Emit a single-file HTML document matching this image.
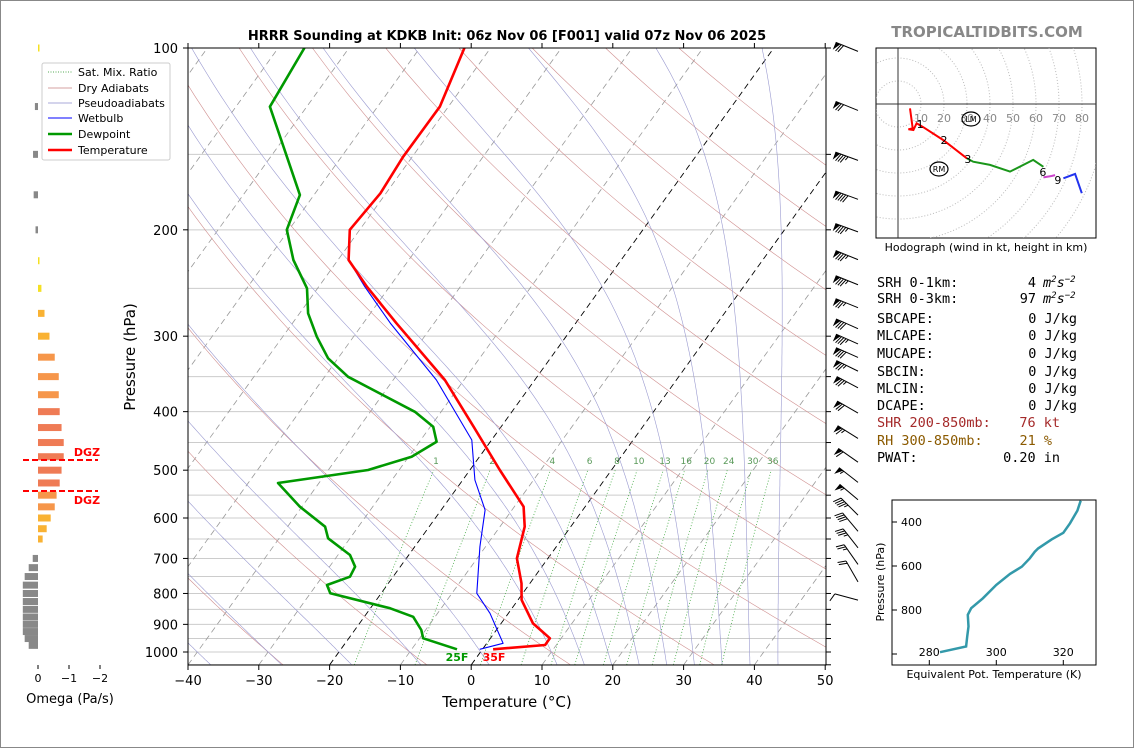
<!DOCTYPE html>
<html><head><meta charset="utf-8"><style>
html,body{margin:0;padding:0;background:#fff}
svg{display:block;font-family:"DejaVu Sans","Liberation Sans",sans-serif}
.mono{font-family:"DejaVu Sans Mono","Liberation Mono",monospace}
</style></head><body>
<svg id="s" width="1134" height="748" viewBox="0 0 1134 748">
<rect x="0.5" y="0.5" width="1133" height="747" fill="#fff" stroke="#888"/>
<defs><clipPath id="cp"><rect x="188" y="48" width="638" height="617"/></clipPath>
<clipPath id="hc"><rect x="876" y="48" width="220" height="190"/></clipPath></defs>
<g id="bg" clip-path="url(#cp)"></g>
<g id="series" clip-path="url(#cp)"></g>
<rect x="188" y="48" width="638" height="617" fill="none" stroke="#000"/>
<g id="axes"></g>
<text x="507" y="40" text-anchor="middle" font-size="13" font-weight="bold">HRRR Sounding at KDKB Init: 06z Nov 06 [F001] valid 07z Nov 06 2025</text>
<text x="987" y="37" text-anchor="middle" font-size="15" font-weight="bold" fill="#888">TROPICALTIDBITS.COM</text>
<text x="507" y="707" text-anchor="middle" font-size="15">Temperature (°C)</text>
<text transform="translate(135,357) rotate(-90)" text-anchor="middle" font-size="15">Pressure (hPa)</text>
<text x="70" y="703" text-anchor="middle" font-size="13">Omega (Pa/s)</text>
<text x="457" y="661" text-anchor="middle" font-size="11" font-weight="bold" fill="#009900">25F</text>
<text x="494" y="661" text-anchor="middle" font-size="11" font-weight="bold" fill="#f00">35F</text>
<g id="omega"></g>
<g font-size="11">
<rect x="42" y="63" width="128" height="97" fill="#fff" stroke="#ccc" rx="2"/>
<line x1="48" y1="72" x2="72" y2="72" stroke="#5a5" stroke-dasharray="1,1.5"/><text x="78" y="76">Sat. Mix. Ratio</text>
<line x1="48" y1="88" x2="72" y2="88" stroke="#d4a0a0"/><text x="78" y="92">Dry Adiabats</text>
<line x1="48" y1="103" x2="72" y2="103" stroke="#a8a8d8"/><text x="78" y="107">Pseudoadiabats</text>
<line x1="48" y1="118" x2="72" y2="118" stroke="#00f"/><text x="78" y="122">Wetbulb</text>
<line x1="48" y1="134" x2="72" y2="134" stroke="#009900" stroke-width="2.5"/><text x="78" y="138">Dewpoint</text>
<line x1="48" y1="150" x2="72" y2="150" stroke="#f00" stroke-width="2.5"/><text x="78" y="154">Temperature</text>
</g>
<g id="barbs"></g>
<g id="hodo"></g>
<text x="986" y="251" text-anchor="middle" font-size="11">Hodograph (wind in kt, height in km)</text>
<g class="mono" font-size="13.5">
<text x="877" y="287">SRH 0-1km:</text><text x="1036" y="287" text-anchor="end">4</text><text x="1043" y="287" font-style="italic">m<tspan font-size="9" dy="-5">2</tspan><tspan dy="5">s</tspan><tspan font-size="9" dy="-5">−2</tspan></text>
<text x="877" y="303">SRH 0-3km:</text><text x="1036" y="303" text-anchor="end">97</text><text x="1043" y="303" font-style="italic">m<tspan font-size="9" dy="-5">2</tspan><tspan dy="5">s</tspan><tspan font-size="9" dy="-5">−2</tspan></text>
<text x="877" y="323">SBCAPE:</text><text x="1077" y="323" text-anchor="end">0 J/kg</text>
<text x="877" y="340">MLCAPE:</text><text x="1077" y="340" text-anchor="end">0 J/kg</text>
<text x="877" y="358">MUCAPE:</text><text x="1077" y="358" text-anchor="end">0 J/kg</text>
<text x="877" y="376">SBCIN:</text><text x="1077" y="376" text-anchor="end">0 J/kg</text>
<text x="877" y="393">MLCIN:</text><text x="1077" y="393" text-anchor="end">0 J/kg</text>
<text x="877" y="410">DCAPE:</text><text x="1077" y="410" text-anchor="end">0 J/kg</text>
<text x="877" y="427" fill="#a52a2a">SHR 200-850mb:</text><text x="1060" y="427" fill="#a52a2a" text-anchor="end">76 kt</text>
<text x="877" y="445" fill="#8b5a00">RH 300-850mb:</text><text x="1052" y="445" fill="#8b5a00" text-anchor="end">21 %</text>
<text x="877" y="462">PWAT:</text><text x="1060" y="462" text-anchor="end">0.20 in</text>
</g>
<g id="thetae"></g>
</svg>
<script>
// ---- sounding data (pressure hPa, temperature °C) ----
const tempP=[100,125.1,151.4,174,200,224.4,248.4,285.6,354.5,423.6,499.6,574.7,620.3,699.7,769.6,820,896.6,949.1,973.5,989.7];
const tempT=[-63.7,-61.2,-61.3,-60.8,-61.4,-58.5,-53.2,-45.3,-32.7,-23.9,-15.8,-8.7,-6.5,-4.4,-1.2,0.5,4.5,8.4,8.4,1.5];
const dewP=[100,125.1,175.1,200,224.4,249.9,274.9,300.6,326.4,350.2,400.3,423.6,448.5,475,499.6,525.1,574.7,620.3,648.3,691,722.4,750.4,774.6,799.4,846.7,874.3,919.6,949.1,989.7];
const dewT=[-86.3,-85.2,-72,-70.3,-66.3,-61.5,-58.8,-55.2,-51.4,-46.7,-33.7,-29.6,-27.6,-29.6,-34.4,-45.8,-40.3,-34.7,-33.1,-28.3,-26.4,-26.1,-28.5,-27.2,-17.2,-13.1,-10.6,-9.5,-3.6];
const wbP=[100,125.1,151.4,174,200,224.4,248.4,285.4,354.5,445.7,519,582,669.4,799.4,862.9,967.3,989.7];
const wbT=[-63.7,-61.2,-61.3,-60.8,-61.4,-58.5,-53.5,-46.2,-33.9,-22.8,-18.3,-13.8,-10.8,-6.5,-2.6,2.3,-0.4];
// omega
const omegaP=[100,125,150,175,200,225,250,275,300,325,350,375,400,425,450,475,500,525,550,575,600,625,650,675,700,725,750,775,800,825,850,875,900,925,950,975];
const omegaV=[-0.03,0.1,0.16,0.14,0.08,-0.03,-0.11,-0.21,-0.37,-0.54,-0.67,-0.67,-0.70,-0.76,-0.83,-0.83,-0.76,-0.70,-0.60,-0.54,-0.41,-0.28,-0.15,0,0.17,0.30,0.43,0.49,0.49,0.49,0.49,0.49,0.49,0.49,0.43,0.30];
// wind barbs
const barbP=[99,124,150,174,197,219,241,263,285,302,318,335,357,393,433,474,512,547,580,617,657,700,748,802];
const barbSpd=[70,70,85,90,85,85,85,75,80,85,80,75,75,70,65,60,55,55,45,40,35,25,20,10];
const barbAng=[158,158,160,160,160,158,158,158,156,156,156,154,152,150,148,145,142,140,135,130,128,125,120,165];
// hodograph (kt)
const hodoU=[[5.2,6.4,4.5,6.7,8.1,11,19.7,29.9],[29.9,32.7,40,48.7,58.8,63.2],[63.2,66.8,68.3],[71.9,77,79.9]];
const hodoV=[[-1.9,-10.6,-11,-11.3,-8.4,-10.1,-15.7,-23.6],[-23.6,-25.1,-26.5,-29.4,-24.3,-27.3],[-31.9,-31.3,-30.9],[-32.3,-30.4,-38.8]];
const hodoColors=['#f00','#1a961a','#cc44cc','#2233ee'];
const hodoLabels=['1','2','3','6','9'];
const hodoLabU=[9.6,20,30.4,63,69.5];
const hodoLabV=[-8.8,-15.7,-24,-29.6,-33];
// theta-e
const thP=[303,348,406,449,479,520,535,565,603,636,686,747,792,822,875,921,966,992];
const thV=[325.2,324.2,322,320,316.5,312.5,311.5,310,307.6,304.1,300,296,292.5,291.5,291.7,291.3,291,283.2];
const mixR=[1,2,4,6,8,10,13,16,20,24,30,36];
const tempTicks=[-40,-30,-20,-10,0,10,20,30,40,50];
const presTicks=[100,200,300,400,500,600,700,800,900,1000];

const NS='http://www.w3.org/2000/svg';
function mk(tag,attrs,parent){const e=document.createElementNS(NS,tag);for(const k in attrs)e.setAttribute(k,attrs[k]);parent.appendChild(e);return e;}
const yP=p=>48+604*Math.log10(p/100);
const xT=(T,p)=>188+(T+40)*7.08+(665-yP(p))*0.72;
const pathOf=pts=>pts.map((q,i)=>(i?'L':'M')+q[0].toFixed(1)+','+q[1].toFixed(1)).join('');
const bg=document.getElementById('bg'),ser=document.getElementById('series'),ax=document.getElementById('axes');
for(let p=100;p<=1050;p+=50){const l=mk('line',{x1:188,x2:826,y1:yP(p),y2:yP(p),stroke:'#ccc','stroke-width':1},bg);

}
for(let T=-130;T<=50;T+=10){const pts=[[xT(T,1050),yP(1050)],[xT(T,100),yP(100)]];
const l=mk('path',{d:pathOf(pts),stroke:(T==0||T==-20)?'#000':'#999','stroke-dasharray':'6,4',fill:'none','stroke-width':(T==0||T==-20)?0.9:0.8},bg);

}
for(let th=-30;th<=200;th+=20){const pts=[];for(let p=100;p<=1050;p+=10){pts.push([xT((th+273.15)*Math.pow(p/1000,0.286)-273.15,p),yP(p)]);}
const l=mk('path',{d:pathOf(pts),stroke:'#d09090',fill:'none','stroke-width':0.6},bg);

}
function es(T){return 6.112*Math.exp(17.67*T/(T+243.5));}
const moistT0=[-50,-40,-30,-20,-10,0,10,14,18,22,26,30,34,38,42];
moistT0.forEach(t0=>{let T=t0+273.15;const pts=[[xT(t0,1000),yP(1000)]];
let p=1000;while(p>100){const rs=0.622*es(T-273.15)/(p-es(T-273.15));const dTdp=(287*T+2.5e6*rs)/(1004+2.5e6*2.5e6*rs*0.622/(287*T*T))/p;T-=dTdp*5;p-=5;pts.push([xT(T-273.15,p),yP(p)]);}
let T2=t0+273.15;const pd=[];p=1000;while(p<1050){const rs=0.622*es(T2-273.15)/(p-es(T2-273.15));const dTdp=(287*T2+2.5e6*rs)/(1004+2.5e6*2.5e6*rs*0.622/(287*T2*T2))/p;T2+=dTdp*5;p+=5;pd.push([xT(T2-273.15,p),yP(p)]);}
const l=mk('path',{d:pathOf(pd.reverse().concat(pts)),stroke:'#9a9ad0',fill:'none','stroke-width':0.6},bg);

});
function tdw(w,p){const e=w*p/(622+w);const g=Math.log(e/6.112);return 243.5*g/(17.67-g);}
mixR.forEach(w=>{const pts=[];for(let p=1050;p>=500;p-=10)pts.push([xT(tdw(w,p),p),yP(p)]);
const l=mk('path',{d:pathOf(pts),stroke:'#4a4','stroke-dasharray':'1,2',fill:'none','stroke-width':0.8},bg);


const t=mk('text',{x:xT(tdw(w,490),490),y:yP(490)-1,'text-anchor':'middle','font-size':9,fill:'#5a9a5a'},bg);t.textContent=w;

});
function line(P,T,col,w,name){const pts=P.map((p,i)=>[xT(T[i],p),yP(p)]);const l=mk('path',{d:pathOf(pts),stroke:col,'stroke-width':w,fill:'none','stroke-linejoin':'round'},ser);

}
line(wbP,wbT,'#00f',1.1,'wetbulb-line');
line(dewP,dewT,'#009900',2.6,'dewpoint-line');
line(tempP,tempT,'#f00',2.6,'temperature-line');
tempTicks.forEach(T=>{const x=188+(T+40)*7.08;mk('line',{x1:x,x2:x,y1:665,y2:670,stroke:'#000'},ax);mk('line',{x1:x,x2:x,y1:48,y2:43,stroke:'#000'},ax);
const t=mk('text',{x:x,y:685,'text-anchor':'middle','font-size':13},ax);t.textContent=T<0?'−'+(-T):T;

});
presTicks.forEach(p=>{const y=yP(p);mk('line',{x1:183,x2:188,y1:y,y2:y,stroke:'#000'},ax);
const t=mk('text',{x:178,y:y+5,'text-anchor':'end','font-size':13},ax);t.textContent=p;

});
for(let p=100;p<=1050;p+=50){mk('line',{x1:826,x2:831,y1:yP(p),y2:yP(p),stroke:'#000'},ax);}
const om=document.getElementById('omega');const ox=v=>38-v*31;
omegaP.forEach((p,i)=>{const v=omegaV[i];if(Math.abs(v)<0.005)return;const a=Math.abs(v);
const c=v>0?'#888':(a<0.15?'#f5e023':(a<0.45?'#f9b233':(a<0.7?'#f6964a':'#ef7b55')));
const x1=Math.min(ox(0),ox(v)),w=Math.max(Math.abs(ox(v)-ox(0)),1.5);
const r=mk('rect',{x:x1,y:yP(p)-3.5,width:w,height:7,fill:c},om);

});
[0,-1,-2].forEach(v=>{mk('line',{x1:ox(v),x2:ox(v),y1:665,y2:669,stroke:'#000'},om);const t=mk('text',{x:ox(v),y:682,'text-anchor':'middle','font-size':11},om);t.textContent=v<0?'−'+(-v):v;

});
[460,491].forEach((y,i)=>{mk('line',{x1:23,x2:98,y1:y,y2:y,stroke:'#f00','stroke-width':2,'stroke-dasharray':'6,3'},om);
const t=mk('text',{x:87,y:i?504:456,'text-anchor':'middle','font-size':11,'font-weight':'bold',fill:'#f00'},om);t.textContent='DGZ';

});
const bb=document.getElementById('barbs');
barbP.forEach((p,i)=>{const a=barbAng[i]*Math.PI/180;const dx=Math.cos(a),dy=-Math.sin(a);const nx=-dy,ny=dx;
const y0=yP(p)+6,x0=858;const L=24;const g=mk('g',{},bb);


const ex=x0+dx*L,ey=y0+dy*L;mk('line',{x1:x0,y1:y0,x2:ex,y2:ey,stroke:'#000','stroke-width':1},g);
let s=barbSpd[i],pos=0;const sgn=-1;
while(s>=50){const ax1=ex-dx*pos,ay1=ey-dy*pos,ax2=ex-dx*(pos+5),ay2=ey-dy*(pos+5);
mk('path',{d:`M${ax1},${ay1}L${ax1+nx*sgn*8},${ay1+ny*sgn*8}L${ax2},${ay2}Z`,fill:'#000'},g);pos+=6;s-=50;}
while(s>=10){const bx=ex-dx*pos,by=ey-dy*pos;mk('line',{x1:bx,y1:by,x2:bx+nx*sgn*8+dx*3,y2:by+ny*sgn*8+dy*3,stroke:'#000'},g);pos+=2.5;s-=10;}
if(s>=5){const bx=ex-dx*pos,by=ey-dy*pos;mk('line',{x1:bx,y1:by,x2:bx+nx*sgn*4+dx*1.5,y2:by+ny*sgn*4+dy*1.5,stroke:'#000'},g);}});
const hg=document.getElementById('hodo');const hx=u=>898+u*2.3,hy=v=>104-v*2.3;
mk('rect',{x:876,y:48,width:220,height:190,fill:'#fff',stroke:'#000'},hg);
const hc=mk('g',{'clip-path':'url(#hc)'},hg);
for(let r=10;r<=90;r+=10){mk('circle',{cx:898,cy:104,r:r*2.3,fill:'none',stroke:'#bbb','stroke-dasharray':'1,2'},hc);}
mk('line',{x1:898,x2:898,y1:48,y2:238,stroke:'#333'},hc);mk('line',{x1:876,x2:1096,y1:104,y2:104,stroke:'#333'},hc);
for(let r=10;r<=80;r+=10){const t=mk('text',{x:hx(r),y:122,'text-anchor':'middle','font-size':11,fill:'#888'},hc);t.textContent=r;}
hodoU.forEach((U,k)=>{const pts=U.map((u,i)=>[hx(u),hy(hodoV[k][i])]);const l=mk('path',{d:pathOf(pts),stroke:hodoColors[k],'stroke-width':2,fill:'none'},hc);

});
hodoLabels.forEach((s,i)=>{const t=mk('text',{x:hx(hodoLabU[i]),y:hy(hodoLabV[i])+4,'text-anchor':'middle','font-size':11},hc);t.textContent=s;});
[['LM',971,119],['RM',939,169]].forEach(a=>{mk('ellipse',{cx:a[1],cy:a[2],rx:9,ry:7,fill:'none',stroke:'#000','stroke-width':1.2},hc);const t=mk('text',{x:a[1],y:a[2]+3,'text-anchor':'middle','font-size':8},hc);t.textContent=a[0];});
const tg=document.getElementById('thetae');const tx=t=>929.3+(t-280)*3.35,ty=p=>522+(p-400)*0.22;
mk('rect',{x:892,y:500,width:204,height:165,fill:'#fff',stroke:'#000'},tg);
[400,600,800,1000].forEach(p=>{mk('line',{x1:892,x2:897,y1:ty(p),y2:ty(p),stroke:'#000'},tg);if(p<1000){const t=mk('text',{x:922,y:ty(p)+4,'text-anchor':'end','font-size':11},tg);t.textContent=p;}});
[280,300,320].forEach(v=>{mk('line',{x1:tx(v),x2:tx(v),y1:665,y2:660,stroke:'#000'},tg);const t=mk('text',{x:tx(v),y:656,'text-anchor':'middle','font-size':11},tg);t.textContent=v;});
const tpts=thP.map((p,i)=>[tx(thV[i]),ty(p)]);const tl=mk('path',{d:pathOf(tpts),stroke:'#3399aa','stroke-width':2.5,fill:'none'},tg);


let t1=mk('text',{x:994,y:678,'text-anchor':'middle','font-size':11},tg);t1.textContent='Equivalent Pot. Temperature (K)';
let t2=mk('text',{transform:'translate(884,582) rotate(-90)','text-anchor':'middle','font-size':11},tg);t2.textContent='Pressure (hPa)';
</script>
</body></html>
